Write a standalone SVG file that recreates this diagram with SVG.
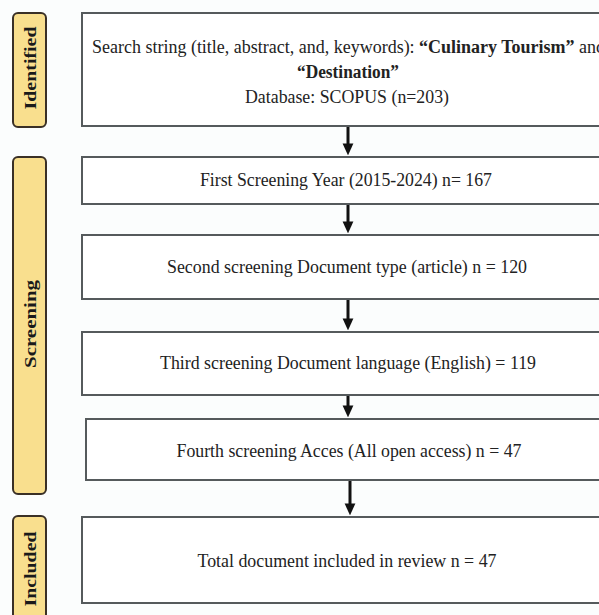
<svg xmlns="http://www.w3.org/2000/svg" width="599" height="615" viewBox="0 0 599 615">
<defs>
<marker id="ah" markerWidth="4" markerHeight="4" refX="2.2" refY="2" orient="auto" markerUnits="strokeWidth">
<path d="M0,0.2 L4,2 L0,3.8 Z" fill="#111"/>
</marker>
<style>
.box{fill:#ffffff;stroke:#555a5c;stroke-width:2}
.lab{fill:#f9df8e;stroke:#3a3026;stroke-width:2}
.t{font-family:"Liberation Serif","Times New Roman",serif;font-size:18px;fill:#222;text-anchor:middle}
.b{font-weight:bold}
.lt{font-family:"Liberation Serif","Times New Roman",serif;font-size:16px;font-weight:bold;fill:#1a1a1a;text-anchor:middle}
.arr{stroke:#111;stroke-width:3;fill:none;marker-end:url(#ah)}
</style>
</defs>
<rect width="599" height="615" fill="#fbfdfd"/>
<g id="label-identified">
<rect class="lab" x="13" y="13" width="33" height="114" rx="5"/>
<text class="lt" transform="translate(35.5,68) rotate(-90)" textLength="83" lengthAdjust="spacingAndGlyphs">Identified</text>
</g>
<g id="label-screening">
<rect class="lab" x="13" y="157" width="33" height="337" rx="5"/>
<text class="lt" transform="translate(35.5,324) rotate(-90)" textLength="88" lengthAdjust="spacingAndGlyphs">Screening</text>
</g>
<g id="label-included">
<rect class="lab" x="13" y="516" width="33" height="110" rx="5"/>
<text class="lt" transform="translate(35.5,569) rotate(-90)" textLength="75" lengthAdjust="spacingAndGlyphs">Included</text>
</g>
<g id="box-identified">
<rect class="box" x="82" y="13" width="530" height="113"/>
<text class="t" x="92" y="53" style="text-anchor:start" textLength="513" lengthAdjust="spacingAndGlyphs">Search string (title, abstract, and, keywords): <tspan class="b">“Culinary Tourism”</tspan> and</text>
<text class="t b" x="348" y="78" textLength="102" lengthAdjust="spacingAndGlyphs">“Destination”</text>
<text class="t" x="347" y="103" textLength="204" lengthAdjust="spacingAndGlyphs">Database: SCOPUS (n=203)</text>
</g>
<g id="box-first">
<rect class="box" x="82" y="157" width="530" height="47"/>
<text class="t" x="346" y="186" textLength="292" lengthAdjust="spacingAndGlyphs">First Screening Year (2015-2024) n= 167</text>
</g>
<g id="box-second">
<rect class="box" x="82" y="235" width="530" height="64"/>
<text class="t" x="347" y="273" textLength="360" lengthAdjust="spacingAndGlyphs">Second screening Document type (article) n = 120</text>
</g>
<g id="box-third">
<rect class="box" x="82" y="332" width="530" height="63"/>
<text class="t" x="348" y="369" textLength="376" lengthAdjust="spacingAndGlyphs">Third screening Document language (English) = 119</text>
</g>
<g id="box-fourth">
<rect class="box" x="86" y="419" width="526" height="61"/>
<text class="t" x="349" y="457" textLength="345" lengthAdjust="spacingAndGlyphs">Fourth screening Acces (All open access) n = 47</text>
</g>
<g id="box-included">
<rect class="box" x="82" y="517" width="530" height="86"/>
<text class="t" x="347" y="567" textLength="299" lengthAdjust="spacingAndGlyphs">Total document included in review n = 47</text>
</g>
<g id="connectors">
<line class="arr" x1="348" y1="127" x2="348" y2="150"/>
<line class="arr" x1="348" y1="205" x2="348" y2="228"/>
<line class="arr" x1="348" y1="300" x2="348" y2="325"/>
<line class="arr" x1="348" y1="396" x2="348" y2="412"/>
<line class="arr" x1="350" y1="481" x2="350" y2="510"/>
</g>
</svg>
